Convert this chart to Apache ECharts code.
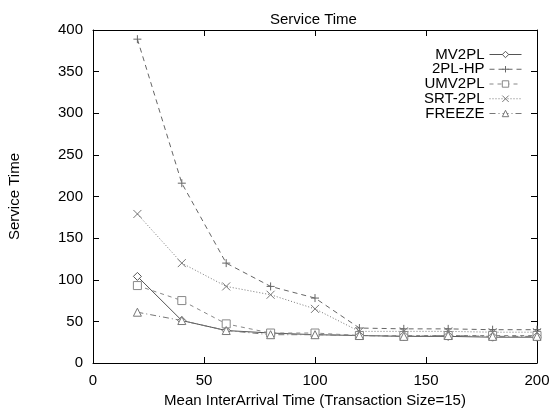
<!DOCTYPE html>
<html>
<head>
<meta charset="utf-8">
<script src="https://cdn.jsdelivr.net/npm/echarts@6/dist/echarts.min.js"></script>
<style>html,body{margin:0;padding:0;background:#fff;}#c{width:550px;height:409px;}</style>
</head>
<body>
<div id="c"></div>
<script>
const xValues = [20, 40, 60, 80, 100, 120, 140, 160, 180, 200];
const mv2pl  = [104, 51, 39, 36, 34, 33, 32, 32, 31, 31];
const twoPlHp = [389, 216, 120, 92, 78, 42, 41, 41, 40, 40];
const umv2pl = [93, 75, 47, 36, 36, 33, 33, 33, 33, 33];
const srt2pl = [179, 120, 92, 82, 65, 38, 38, 38, 37, 37];
const freeze = [61, 51, 39, 34, 34, 33, 32, 33, 32, 32];
const seriesNames = ['MV2PL', '2PL-HP', 'UMV2PL', 'SRT-2PL', 'FREEZE'];
const xTicks = [0, 50, 100, 150, 200];
const yTicks = [0, 50, 100, 150, 200, 250, 300, 350, 400];

const pair = arr => xValues.map((x, i) => [x, arr[i]]);
const FONT = 'Liberation Sans, Arial, Helvetica, sans-serif';
const plus = 'path://M5,0L5,10M0,5L10,5';
const cross = 'path://M0,0L10,10M10,0L0,10';
const diamond = 'path://M5,0L10,5L5,10L0,5Z';
const square = 'path://M0,0L10,0L10,10L0,10Z';
const triangle = 'path://M5,0L10,9L0,9Z';

function mk(name, data, color, type, symbol, size, fill) {
  return {
    name, type: 'line', data: pair(data),
    symbol, symbolSize: size, showSymbol: true,
    lineStyle: { color, width: 1, type },
    itemStyle: { color: fill, borderColor: color, borderWidth: 1 },
    emphasis: { disabled: true },
    animation: false
  };
}

const chart = echarts.init(document.getElementById('c'), null, { renderer: 'canvas' });
const axisCommon = {
  type: 'value',
  axisLine: { show: true, onZero: false, lineStyle: { color: '#000', width: 1 } },
  axisTick: { show: true, inside: true, length: 6, lineStyle: { color: '#000' } },
  splitLine: { show: false },
  axisLabel: { color: '#000', fontSize: 15, fontFamily: FONT }
};
chart.setOption({
  backgroundColor: '#fff',
  animation: false,
  title: {
    text: 'Service Time', left: 265, top: 7,
    textStyle: { fontSize: 15, fontWeight: 'normal', color: '#000', fontFamily: FONT }
  },
  grid: { left: 93, right: 13, top: 30, bottom: 46, containLabel: false, outerBoundsMode: 'none' },
  legend: {
    data: seriesNames, orient: 'vertical', right: 28, top: 47, align: 'right', padding: 0,
    itemWidth: 32, itemHeight: 8, itemGap: -0.25,
    lineStyle: { width: 1 },
    itemStyle: { borderWidth: 1 },
    textStyle: { fontSize: 15, color: '#000', fontFamily: FONT, lineHeight: 15 },
    inactiveColor: '#000'
  },
  xAxis: [
    Object.assign({}, axisCommon, {
      min: 0, max: 200, interval: 50,
      name: 'Mean InterArrival Time (Transaction Size=15)', nameLocation: 'middle', nameGap: 22,
      nameTextStyle: { fontSize: 15, color: '#000', fontFamily: FONT },
      axisLabel: Object.assign({}, axisCommon.axisLabel, { margin: 10, customValues: xTicks }),
    }),
    Object.assign({}, axisCommon, {
      min: 0, max: 200, interval: 50, position: 'top',
      axisLabel: { show: false }
    })
  ],
  yAxis: [
    Object.assign({}, axisCommon, {
      min: 0, max: 400, interval: 50,
      name: 'Service Time', nameLocation: 'middle', nameGap: 71, nameRotate: 90,
      nameTextStyle: { fontSize: 15, color: '#000', fontFamily: FONT },
      axisLabel: Object.assign({}, axisCommon.axisLabel, { margin: 10, customValues: yTicks })
    }),
    Object.assign({}, axisCommon, {
      min: 0, max: 400, interval: 50, position: 'right',
      axisLabel: { show: false }
    })
  ],
  series: [
    mk('MV2PL', mv2pl, '#555', 'solid', diamond, 8, '#fff'),
    mk('2PL-HP', twoPlHp, '#666', [5, 4], plus, 8, 'none'),
    mk('UMV2PL', umv2pl, '#888', [4, 4], square, 8, '#fff'),
    mk('SRT-2PL', srt2pl, '#777', [1, 2], cross, 8, 'none'),
    mk('FREEZE', freeze, '#777', [6, 3, 1, 3], triangle, 8, '#fff')
  ]
});
</script>
</body>
</html>
